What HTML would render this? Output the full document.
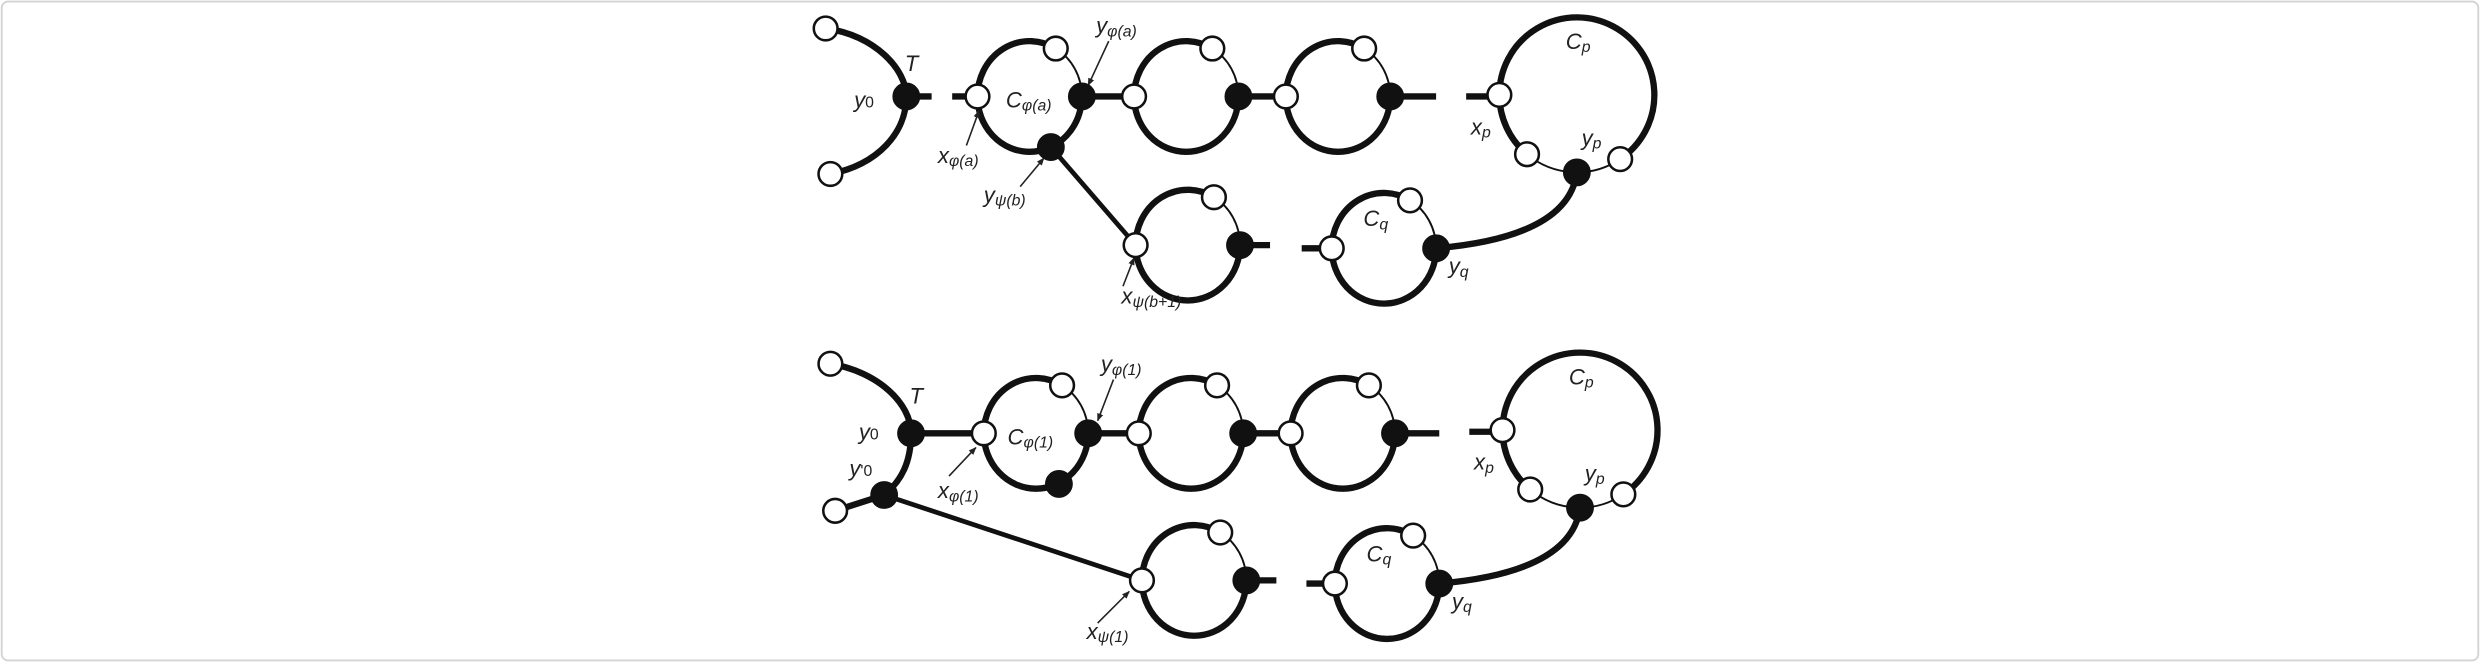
<!DOCTYPE html>
<html><head><meta charset="utf-8"><style>
html,body{margin:0;padding:0;background:#fff;}
svg{display:block;}
text{font-family:"Liberation Sans",sans-serif;font-style:italic;fill:#222;}
</style></head><body>
<svg width="2480" height="662" viewBox="0 0 1568 418.6" xmlns="http://www.w3.org/2000/svg">
<defs>
<marker id="ah" viewBox="0 0 10 10" refX="9" refY="5" markerWidth="5" markerHeight="5" orient="auto"><path d="M0,1 L10,5 L0,9 z" fill="#222"/></marker>
</defs>
<rect x="1" y="1" width="1566" height="416.6" rx="4" fill="#fff" stroke="#d4d4d4" stroke-width="1.2"/>
<g fill="none" stroke="#111" stroke-linecap="butt">
<!-- ===== TOP DIAGRAM ===== -->
<path d="M522,18 C553,22 573,44 573,61 C573,84 555,104 525,110" stroke-width="4"/>
<path d="M573,61 H589 M602,61 H618" stroke-width="4"/>
<!-- C1 -->
<path d="M618,61 A33,35 0 0 1 667.5,30.7" stroke-width="4"/>
<path d="M667.5,30.7 A33,35 0 0 1 684,61" stroke-width="1.2"/>
<path d="M684,61 A33,35 0 0 1 618,61" stroke-width="4"/>
<path d="M684,61 H717" stroke-width="4"/>
<!-- C2 -->
<path d="M717,61 A33,35 0 0 1 766.5,30.7" stroke-width="4"/>
<path d="M766.5,30.7 A33,35 0 0 1 783,61" stroke-width="1.2"/>
<path d="M783,61 A33,35 0 0 1 717,61" stroke-width="4"/>
<path d="M783,61 H813" stroke-width="4"/>
<!-- C3 -->
<path d="M813,61 A33,35 0 0 1 862.5,30.7" stroke-width="4"/>
<path d="M862.5,30.7 A33,35 0 0 1 879,61" stroke-width="1.2"/>
<path d="M879,61 A33,35 0 0 1 813,61" stroke-width="4"/>
<path d="M879,61 H908 M927,61 H948" stroke-width="4"/>
<!-- Cp -->
<path d="M948,60 A49,49 0 1 1 1024.4,100.6" stroke-width="4"/>
<path d="M948,60 A49,49 0 0 0 965.5,97.5" stroke-width="4"/>
<path d="M965.5,97.5 A49,49 0 0 0 1024.4,100.6" stroke-width="1.2"/>
<path d="M997,109 C993,140 955,153 908,157" stroke-width="4"/>
<!-- branch -->
<path d="M664.4,93 L718,155" stroke-width="3"/>
<!-- mid cycle -->
<path d="M718,155 A33,35 0 0 1 767.5,124.7" stroke-width="4"/>
<path d="M767.5,124.7 A33,35 0 0 1 784,155" stroke-width="1.2"/>
<path d="M784,155 A33,35 0 0 1 718,155" stroke-width="4"/>
<path d="M784,155 H803 M823,157 H842" stroke-width="4"/>
<!-- Cq -->
<path d="M842,157 A33,35 0 0 1 891.5,126.7" stroke-width="4"/>
<path d="M891.5,126.7 A33,35 0 0 1 908,157" stroke-width="1.2"/>
<path d="M908,157 A33,35 0 0 1 842,157" stroke-width="4"/>

<!-- ===== BOTTOM DIAGRAM ===== -->
<path d="M525,230 C555,235 576,255 576,274 C576,292 570,304 559,313 L528,323" stroke-width="4"/>
<path d="M576,274 H622" stroke-width="4"/>
<path d="M559,313 L722,367" stroke-width="3"/>
<!-- C1 -->
<path d="M622,274 A33,35 0 0 1 671.5,243.7" stroke-width="4"/>
<path d="M671.5,243.7 A33,35 0 0 1 688,274" stroke-width="1.2"/>
<path d="M688,274 A33,35 0 0 1 622,274" stroke-width="4"/>
<path d="M688,274 H720" stroke-width="4"/>
<!-- C2 -->
<path d="M720,274 A33,35 0 0 1 769.5,243.7" stroke-width="4"/>
<path d="M769.5,243.7 A33,35 0 0 1 786,274" stroke-width="1.2"/>
<path d="M786,274 A33,35 0 0 1 720,274" stroke-width="4"/>
<path d="M786,274 H816" stroke-width="4"/>
<!-- C3 -->
<path d="M816,274 A33,35 0 0 1 865.5,243.7" stroke-width="4"/>
<path d="M865.5,243.7 A33,35 0 0 1 882,274" stroke-width="1.2"/>
<path d="M882,274 A33,35 0 0 1 816,274" stroke-width="4"/>
<path d="M882,274 H910 M929,273 H950" stroke-width="4"/>
<!-- Cp -->
<path d="M950,272 A49,49 0 1 1 1026.4,312.6" stroke-width="4"/>
<path d="M950,272 A49,49 0 0 0 967.5,309.5" stroke-width="4"/>
<path d="M967.5,309.5 A49,49 0 0 0 1026.4,312.6" stroke-width="1.2"/>
<path d="M999,321 C995,352 957,365 910,369" stroke-width="4"/>
<!-- mid cycle -->
<path d="M722,367 A33,35 0 0 1 771.5,336.7" stroke-width="4"/>
<path d="M771.5,336.7 A33,35 0 0 1 788,367" stroke-width="1.2"/>
<path d="M788,367 A33,35 0 0 1 722,367" stroke-width="4"/>
<path d="M788,367 H807 M826,369 H844" stroke-width="4"/>
<!-- Cq -->
<path d="M844,369 A33,35 0 0 1 893.5,338.7" stroke-width="4"/>
<path d="M893.5,338.7 A33,35 0 0 1 910,369" stroke-width="1.2"/>
<path d="M910,369 A33,35 0 0 1 844,369" stroke-width="4"/>

<!-- arrows -->
<g stroke-width="1" stroke="#222">
<path d="M611,92 L619,70" marker-end="url(#ah)"/>
<path d="M645,118 L660,100" marker-end="url(#ah)"/>
<path d="M701,26 L688,54" marker-end="url(#ah)"/>
<path d="M710,181 L717,163" marker-end="url(#ah)"/>
<path d="M600,301 L617,283" marker-end="url(#ah)"/>
<path d="M704,240 L694,266" marker-end="url(#ah)"/>
<path d="M694,394 L714,374" marker-end="url(#ah)"/>
</g>
</g>

<!-- nodes -->
<g stroke="#111" stroke-width="1.6">
<g fill="#fff">
<circle cx="522" cy="18" r="7.5"/><circle cx="525" cy="110" r="7.5"/>
<circle cx="618" cy="61" r="7.5"/><circle cx="667.5" cy="30.7" r="7.5"/>
<circle cx="717" cy="61" r="7.5"/><circle cx="766.5" cy="30.7" r="7.5"/>
<circle cx="813" cy="61" r="7.5"/><circle cx="862.5" cy="30.7" r="7.5"/>
<circle cx="948" cy="60" r="7.5"/><circle cx="965.5" cy="97.5" r="7.5"/><circle cx="1024.4" cy="100.6" r="7.5"/>
<circle cx="718" cy="155" r="7.5"/><circle cx="767.5" cy="124.7" r="7.5"/>
<circle cx="842" cy="157" r="7.5"/><circle cx="891.5" cy="126.7" r="7.5"/>
<circle cx="525" cy="230" r="7.5"/><circle cx="528" cy="323" r="7.5"/>
<circle cx="622" cy="274" r="7.5"/><circle cx="671.5" cy="243.7" r="7.5"/>
<circle cx="720" cy="274" r="7.5"/><circle cx="769.5" cy="243.7" r="7.5"/>
<circle cx="816" cy="274" r="7.5"/><circle cx="865.5" cy="243.7" r="7.5"/>
<circle cx="950" cy="272" r="7.5"/><circle cx="967.5" cy="309.5" r="7.5"/><circle cx="1026.4" cy="312.6" r="7.5"/>
<circle cx="722" cy="367" r="7.5"/><circle cx="771.5" cy="336.7" r="7.5"/>
<circle cx="844" cy="369" r="7.5"/><circle cx="893.5" cy="338.7" r="7.5"/>
</g>
<g fill="#111">
<circle cx="573" cy="61" r="8"/>
<circle cx="684" cy="61" r="8"/><circle cx="664.4" cy="93" r="8"/>
<circle cx="783" cy="61" r="8"/><circle cx="879" cy="61" r="8"/>
<circle cx="997" cy="109" r="8"/>
<circle cx="784" cy="155" r="8"/><circle cx="908" cy="157" r="8"/>
<circle cx="576" cy="274" r="8"/><circle cx="559" cy="313" r="8"/>
<circle cx="688" cy="274" r="8"/><circle cx="669.5" cy="306" r="8"/>
<circle cx="786" cy="274" r="8"/><circle cx="882" cy="274" r="8"/>
<circle cx="999" cy="321" r="8"/>
<circle cx="788" cy="367" r="8"/><circle cx="910" cy="369" r="8"/>
</g>
</g>

<!-- labels -->
<g font-size="14">
<text x="572" y="45">T</text>
<text x="540" y="68">y<tspan font-size="10" font-style="normal">0</tspan></text>
<text x="636" y="68">C<tspan font-size="10" dy="2">φ(a)</tspan></text>
<text x="593" y="103">x<tspan font-size="10" dy="2">φ(a)</tspan></text>
<text x="622" y="128">y<tspan font-size="10" dy="2">ψ(b)</tspan></text>
<text x="693" y="21">y<tspan font-size="10" dy="2">φ(a)</tspan></text>
<text x="709" y="192">x<tspan font-size="10" dy="2">ψ(b+1)</tspan></text>
<text x="990" y="31">C<tspan font-size="10" dy="2">p</tspan></text>
<text x="930" y="85">x<tspan font-size="10" dy="2">p</tspan></text>
<text x="1000" y="92">y<tspan font-size="10" dy="2">p</tspan></text>
<text x="862" y="143">C<tspan font-size="10" dy="2">q</tspan></text>
<text x="916" y="173">y<tspan font-size="10" dy="2">q</tspan></text>

<text x="575" y="255">T</text>
<text x="543" y="278">y<tspan font-size="10" font-style="normal">0</tspan></text>
<text x="537" y="301">y<tspan font-size="10" font-style="normal">'0</tspan></text>
<text x="637" y="281">C<tspan font-size="10" dy="2">φ(1)</tspan></text>
<text x="593" y="315">x<tspan font-size="10" dy="2">φ(1)</tspan></text>
<text x="696" y="235">y<tspan font-size="10" dy="2">φ(1)</tspan></text>
<text x="687" y="404">x<tspan font-size="10" dy="2">ψ(1)</tspan></text>
<text x="992" y="243">C<tspan font-size="10" dy="2">p</tspan></text>
<text x="932" y="297">x<tspan font-size="10" dy="2">p</tspan></text>
<text x="1002" y="304">y<tspan font-size="10" dy="2">p</tspan></text>
<text x="864" y="355">C<tspan font-size="10" dy="2">q</tspan></text>
<text x="918" y="385">y<tspan font-size="10" dy="2">q</tspan></text>
</g>
</svg>
</body></html>
